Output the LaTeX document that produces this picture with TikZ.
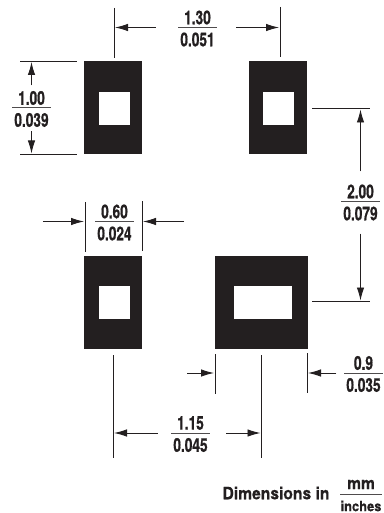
\documentclass[tikz,border=0pt]{standalone}
\usepackage{fontspec}
\setmainfont[FakeStretch=0.72,BoldFeatures={FakeBold=0.8}]{TeX Gyre Heros}
\newfontfamily\unitfont[FakeStretch=0.92,BoldFeatures={FakeBold=0.4}]{TeX Gyre Heros}
\usetikzlibrary{positioning,arrows.meta}
\definecolor{padblack}{HTML}{231F20}
\tikzset{
    on grid,
    pad/.style = {
        fill=padblack,
        shape=rectangle,
        inner sep=0pt,
        minimum width=58pt,
        minimum height=93pt
    },
    hole/.style = {
        fill=white,
        shape=rectangle,
        inner sep=0pt,
        minimum width=31pt,
        minimum height=33pt
    },
    rulebar/.style = {
        fill=padblack!80,
        shape=rectangle,
        inner sep=0pt,
        minimum width=39pt,
        minimum height=1pt
    },
    figure/.style = {
        text=padblack,
        inner sep=0pt,
        font=\fontsize{19}{19}\selectfont\bfseries
    },
    unitlabel/.style = {
        text=padblack,
        inner sep=0pt,
        font=\fontsize{17}{17}\unitfont\bfseries
    },
    extline/.style = {
        draw=padblack,
        line width=0.9pt
    },
    dimline/.style = {
        draw=padblack,
        line width=0.9pt,
        shorten >=1pt
    },
    >={Latex[length=13pt,width=7.5pt]},
}

\begin{document}
\begin{tikzpicture}[x=1pt,y=-1pt]
    \useasboundingbox (0,0) rectangle (383,513);

    \node[pad] (padTL) at (113,107.5) {};
    \node[pad] (padTR) at (278,107.5) {};
    \node[pad] (padBL) at (113,302) {};
    \node[pad, minimum width=93pt] (padBR) at (261.5,302.5) {};
    \node[hole] (holeTL) at (114.5,108.5) {};
    \node[hole] (holeTR) at (278.5,108.5) {};
    \node[hole] (holeBL) at (114.5,302.5) {};
    \node[hole, minimum width=58pt] (holeBR) at (263,302.5) {};

    % extension lines
    \coordinate (widthA) at (114,8);    \coordinate (widthAend) at (114,58);
    \coordinate (widthB) at (280,7);    \coordinate (widthBend) at (280,57);
    \coordinate (heightA) at (20,61);   \coordinate (heightAend) at (77,61);
    \coordinate (heightB) at (20,154.5); \coordinate (heightBend) at (77,154.5);
    \coordinate (padA) at (85,202);     \coordinate (padAend) at (85,252);
    \coordinate (padB) at (142,201);    \coordinate (padBend) at (142,251);
    \coordinate (pitchA) at (312,108.5); \coordinate (pitchAend) at (370,108.5);
    \coordinate (pitchB) at (312,301.5); \coordinate (pitchBend) at (370,301.5);
    \coordinate (wideA) at (215,354);   \coordinate (wideAend) at (215,394);
    \coordinate (wideB) at (307,353);   \coordinate (wideBend) at (307,393);
    \coordinate (spanA) at (113,355);   \coordinate (spanAend) at (113,458);
    \coordinate (spanB) at (261.5,355); \coordinate (spanBend) at (261.5,458);

    \path[extline] (widthA) -- (widthAend);
    \path[extline] (widthB) -- (widthBend);
    \path[extline] (heightA) -- (heightAend);
    \path[extline] (heightB) -- (heightBend);
    \path[extline] (padA) -- (padAend);
    \path[extline] (padB) -- (padBend);
    \path[extline] (pitchA) -- (pitchAend);
    \path[extline] (pitchB) -- (pitchBend);
    \path[extline] (wideA) -- (wideAend);
    \path[extline] (wideB) -- (wideBend);
    \path[extline] (spanA) -- (spanAend);
    \path[extline] (spanB) -- (spanBend);

    % labels
    \node[rulebar] (width) at (197.5,27.5) {};
    \node[figure, above=10pt of width] (widthmm) {1.30};
    \node[figure, below=12pt of width] (widthin) {0.051};

    \node[rulebar] (height) at (31.5,108) {};
    \node[figure, above=10pt of height] (heightmm) {1.00};
    \node[figure, below=12pt of height] (heightin) {0.039};

    \node[rulebar] (padw) at (114.5,221.5) {};
    \node[figure, above=10pt of padw] (padwmm) {0.60};
    \node[figure, below=12pt of padw] (padwin) {0.024};

    \node[rulebar] (pitch) at (360.5,201.5) {};
    \node[figure, above=10pt of pitch] (pitchmm) {2.00};
    \node[figure, below=12pt of pitch] (pitchin) {0.079};

    \node[rulebar] (wide) at (363.5,373) {};
    \node[figure, above=10pt of wide] (widemm) {0.9};
    \node[figure, below=12pt of wide] (widein) {0.035};

    \node[rulebar] (span) at (190.5,433) {};
    \node[figure, above=10pt of span] (spanmm) {1.15};
    \node[figure, below=12pt of span] (spanin) {0.045};

    \node[unitlabel] (dimtext) at (276,493) {Dimensions in};
    \node[rulebar, minimum width=42pt] (unit) at (361,494) {};
    \node[unitlabel, above=9.5pt of unit] (unitmm) {mm};
    \node[unitlabel, font=\fontsize{14}{14}\unitfont\bfseries, below=12pt of unit] (unitin) {inches};

    % arrows
    \path[dimline, ->] ([xshift=-22pt]width.west) -- (width.west -| widthA);
    \path[dimline, ->] ([xshift=19pt]width.east) -- (width.east -| widthB);
    \path[dimline, ->] ([yshift=5.5pt]heightmm.north) -- (heightmm.north |- heightA);
    \path[dimline, ->] ([yshift=-4pt]heightin.south) -- (heightin.south |- heightB);
    \path[dimline, ->] ([xshift=-52pt]padw.west) -- (padw.west -| padA);
    \path[dimline, ->] ([xshift=50pt]padw.east) -- (padw.east -| padB);
    \path[dimline, ->] ([yshift=13pt]pitchmm.north) -- (pitchmm.north |- pitchA);
    \path[dimline, ->] ([yshift=-13pt]pitchin.south) -- (pitchin.south |- pitchB);
    \path[dimline, ->] ([xshift=-28pt]wide.west -| wideA) -- (wide.west -| wideA);
    \path[dimline, ->] ([xshift=-7.5pt]wide.west) -- (wide.west -| wideB);
    \path[dimline, ->] ([xshift=-13pt]span.west) -- (span.west -| spanA);
    \path[dimline, ->] ([xshift=16pt]span.east) -- (span.east -| spanB);
\end{tikzpicture}
\end{document}
